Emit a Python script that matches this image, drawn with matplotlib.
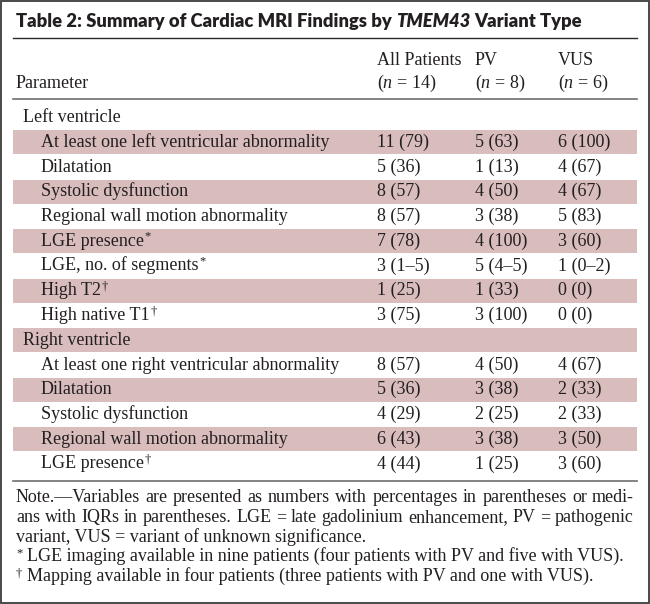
import matplotlib
from matplotlib import pyplot as plt
from matplotlib.patches import Rectangle


title_parts = ['Table 2: Summary of Cardiac MRI Findings by', 'TMEM43', 'Variant Type']
col_heads = ['All Patients', 'PV', 'VUS']
col_ns = ['14', '8', '6']

params = ['Left ventricle',
          'At least one left ventricular abnormality',
          'Dilatation',
          'Systolic dysfunction',
          'Regional wall motion abnormality',
          'LGE presence',
          'LGE, no. of segments',
          'High T2',
          'High native T1',
          'Right ventricle',
          'At least one right ventricular abnormality',
          'Dilatation',
          'Systolic dysfunction',
          'Regional wall motion abnormality',
          'LGE presence']
marks = ['', '', '', '', '', '*', '*', '\u2020', '\u2020', '', '', '', '', '', '\u2020']
is_heading = [True] + [False] * 8 + [True] + [False] * 5

all_patients = ['', '11 (79)', '5 (36)', '8 (57)', '8 (57)', '7 (78)', '3 (1\u20135)',
                '1 (25)', '3 (75)', '', '8 (57)', '5 (36)', '4 (29)', '6 (43)', '4 (44)']
pv = ['', '5 (63)', '1 (13)', '4 (50)', '3 (38)', '4 (100)', '5 (4\u20135)',
      '1 (33)', '3 (100)', '', '4 (50)', '3 (38)', '2 (25)', '3 (38)', '1 (25)']
vus = ['', '6 (100)', '4 (67)', '4 (67)', '5 (83)', '3 (60)', '1 (0\u20132)',
       '0 (0)', '0 (0)', '', '4 (67)', '2 (33)', '2 (33)', '3 (50)', '3 (60)']

note_justified = ['Note.\u2014Variables are presented as numbers with percentages in parentheses or medi-',
                  'ans with IQRs in parentheses. LGE = late gadolinium enhancement, PV = pathogenic']
note_last = 'variant, VUS = variant of unknown significance.'
footnotes = [('*', 'LGE imaging available in nine patients (four patients with PV and five with VUS).'),
             ('\u2020', 'Mapping available in four patients (three patients with PV and one with VUS).')]


W, H = 650, 604
ink = '#231f20'
band = '#d8bdbc'
body = dict(family='Liberation Serif', fontsize=13, color=ink)
sup = dict(family='Liberation Serif', fontsize=9, color=ink)
head = dict(family='Lato', fontsize=13.2, weight='heavy', color=ink)

matplotlib.rcParams['mathtext.fontset'] = 'custom'
matplotlib.rcParams['mathtext.rm'] = 'Liberation Serif'
matplotlib.rcParams['mathtext.it'] = 'Liberation Serif:italic'

fig = plt.figure(figsize=(W / 100, H / 100), dpi=100)
ax = fig.add_axes([0, 0, 1, 1])
ax.set_xlim(0, W)
ax.set_ylim(H, 0)
ax.axis('off')
renderer = fig.canvas.get_renderer()


def width(s, **kw):
    t = ax.text(0, 0, s, **kw)
    w = t.get_window_extent(renderer).width
    t.remove()
    return w


def put(x, y, s, **kw):
    ax.text(x, y, s, va='baseline', ha='left', **kw)
    return x + width(s, **kw)


def justify(x0, x1, y, line, **kw):
    words = line.split(' ')
    ws = [width(w, **kw) for w in words]
    gap = (x1 - x0 - sum(ws)) / (len(words) - 1)
    x = x0
    for w, wd in zip(words, ws):
        put(x, y, w, **kw)
        x += wd + gap


# frame
ax.add_patch(Rectangle((0.8, 0.8), W - 1.6, H - 1.6, fill=False, ec='#3a3a3a', lw=1.3))

# title
x = 16
sp = width('x x', **head) - width('xx', **head)
x = put(x, 27, title_parts[0], **head) + sp
x = put(x, 27, title_parts[1], style='italic', **head) + sp
put(x, 27, title_parts[2], **head)
ax.plot([13, 637], [38, 38], color='#2a2a2a', lw=1.0)

# column headers
col_x = [377, 475, 558]
put(16, 88, 'Parameter', **body)
for cx, h, n in zip(col_x, col_heads, col_ns):
    put(cx, 65, h, **body)
    put(cx, 88, '($n$ = ' + n + ')', **body)
ax.plot([13, 637], [99, 99], color='#6e6e6e', lw=1.2)

# body rows
y0, dy = 117.5, 24.75
for i, p in enumerate(params):
    yc = y0 + i * dy
    if i % 2 == 1:
        ax.add_patch(Rectangle((13, yc - 12), 624, 24, color=band, lw=0, zorder=0))
    x = 23 if is_heading[i] else 41
    x = put(x, yc + 4.5, p, **body)
    if marks[i]:
        put(x + 0.5, yc - 1.5, marks[i], **sup)
    for cx, col in zip(col_x, [all_patients, pv, vus]):
        if col[i]:
            put(cx, yc + 4.5, col[i], **body)

ax.plot([13, 637], [481, 481], color='#6e6e6e', lw=1.2)

# notes
ny, ndy = 502, 19.8
justify(16, 634, ny, note_justified[0], **body)
justify(16, 634, ny + ndy, note_justified[1], **body)
put(16, ny + 2 * ndy, note_last, **body)
for k, (m, txt) in enumerate(footnotes):
    yy = ny + (3 + k) * ndy
    x = put(16, yy - 5, m, **sup)
    put(x + 4.5, yy, txt, **body)

plt.savefig('out.png', dpi=100)
